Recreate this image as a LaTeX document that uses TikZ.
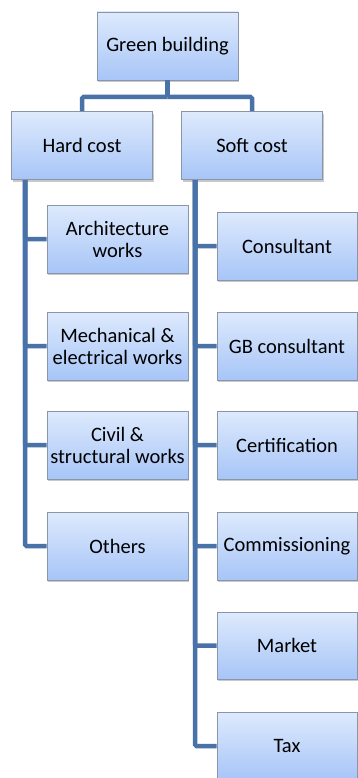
\documentclass[tikz,border=0pt]{standalone}
\usepackage{fontspec}
\setmainfont{Carlito}
\usetikzlibrary{shadows,calc}
\definecolor{boxtop}{HTML}{DEEAFD}
\definecolor{boxbot}{HTML}{A7C5F7}
\definecolor{boxline}{HTML}{8A96A8}
\definecolor{conn}{HTML}{4872A8}
\tikzset{
  box/.style={draw=boxline, line width=0.9pt, top color=boxtop, bottom color=boxbot,
    minimum width=141pt, minimum height=68pt, inner sep=0pt, align=center,
    font=\fontsize{20.5}{22}\selectfont, text=black,
    drop shadow={shadow xshift=1.2pt, shadow yshift=-2.2pt, opacity=0.35, fill=black!60}},
  link/.style={draw=conn, line width=4.5pt, rounded corners=1.5pt}
}
\begin{document}
\begin{tikzpicture}[x=1pt,y=-1pt]
\useasboundingbox (0,0) rectangle (358,778);
\clip (0,0) rectangle (358,778);
\fill[white] (0,0) rectangle (358,778);
% nodes
\node[box] (gb) at (167.5,46) {Green building};
\node[box] (hard) at (82,145.5) {Hard cost};
\node[box] (soft) at (252,145.5) {Soft cost};
\node[box] (arch) at (117.5,239) {Architecture\\works};
\node[box] (mech) at (117.5,346) {Mechanical \&\\electrical works};
\node[box] (civil) at (117.5,445) {Civil \&\\structural works};
\node[box] (oth) at (117.5,546) {Others};
\node[box, minimum width=140pt] (cons) at (287,246) {Consultant};
\node[box, minimum width=140pt] (gbc) at (287,346) {GB consultant};
\node[box, minimum width=140pt] (cert) at (287,445) {Certification};
\node[box, minimum width=140pt] (comm) at (287,546) {Commissioning};
\node[box, minimum width=140pt, minimum height=67pt] (mkt) at (287,645.5) {Market};
\node[box, minimum width=140pt] (tax) at (287,746) {Tax};
% connectors
\coordinate (mid) at (167.5,97);
\coordinate (hs) at (25,180);
\coordinate (ss) at (195,180);
\draw[link] (gb.south) -- (mid);
\draw[link] (mid) -| (hard.north);
\draw[link] (mid) -| (soft.north);
\draw[link] (hs) |- (arch.west);
\draw[link] (hs) |- (mech.west);
\draw[link] (hs) |- (civil.west);
\draw[link] (hs) |- (oth.west);
\draw[link] (ss) |- (cons.west);
\draw[link] (ss) |- (gbc.west);
\draw[link] (ss) |- (cert.west);
\draw[link] (ss) |- (comm.west);
\draw[link] (ss) |- (mkt.west);
\draw[link] (ss) |- (tax.west);
\end{tikzpicture}
\end{document}
